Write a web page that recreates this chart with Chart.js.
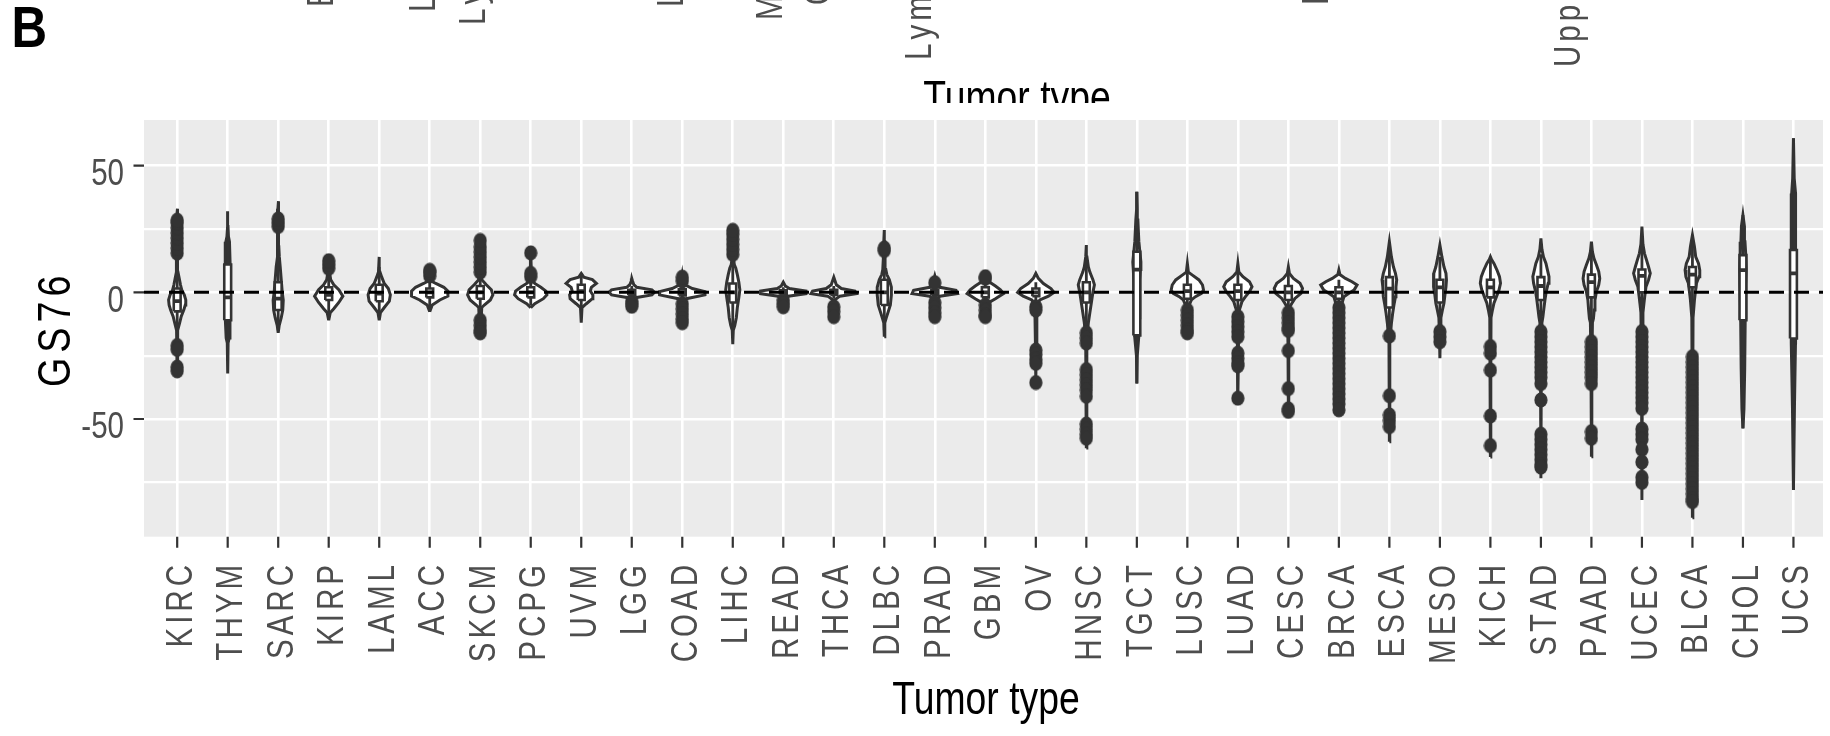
<!DOCTYPE html>
<html>
<head>
<meta charset="utf-8">
<script src="https://cdn.jsdelivr.net/npm/chart.js@4.4.1/dist/chart.umd.min.js"></script>
<style>
  html, body { margin: 0; padding: 0; background: #fff; overflow: hidden; }
  canvas { display: block; }
</style>
</head>
<body>
<canvas id="chart" width="1830" height="736"></canvas>
<script>
// Tumor types, in plotting order
const categories = ['KIRC','THYM','SARC','KIRP','LAML','ACC','SKCM','PCPG','UVM','LGG','COAD','LIHC','READ','THCA','DLBC','PRAD','GBM','OV','HNSC','TGCT','LUSC','LUAD','CESC','BRCA','ESCA','MESO','KICH','STAD','PAAD','UCEC','BLCA','CHOL','UCS'];

// Box statistics of GS76 per tumor type
const whiskerLow  = [-15,-18,-15,-10,-9,-6,-6,-5,-7,-2.5,-3,-15,-2,-2.5,-15,-2.5,-4.5,-4,-15,-36,-6,-7.5,-7,-5,-16,-14,-10,-14,-13,-13,-10,-53.7,-78];
const q1          = [-7.5,-11,-7,-3,-3.5,-2,-2.5,-2,-3,-1,-1.2,-4,-0.8,-1,-5,-1,-2,-1.5,-4,-17,-2.5,-3,-3,-2.5,-6,-4,-2,-3,-2,0,2,-11,-18.2];
const median      = [-3.5,-2,-2.5,-1,-0.5,0,0,0,0.5,0,0,0,0,0,0,0,0,0,0,9,0.5,0.5,0,0,1.5,2,2,2.5,4,6.5,7,8.8,7.5];
const q3          = [1.5,11,4,2,3,1.5,2.5,2,3,1,1.2,3.5,0.8,1,5,1,2,1.5,4,16,3,3,2.5,2,6,5,5,6,7,9,10,14.7,16.7];
const whiskerHigh = [12,22,17,8,10,5,6.5,5,7,2.5,3,14,2,2.5,14,2.5,4.5,4,14,39.7,8,8,8,5,16,14,13,15,17,22,20,30.5,60.8];

// Outlying samples per tumor type
const outliers = [
  [15.5,17.5,19.5,21.5,23.5,25.5,27.5,28.5,-21,-22.5,-29.5,-31],
  [],
  [26,27.5,29],
  [9.5,11,12.5],
  [],
  [6.5,8,8.7],
  [8,10,12,14,16,18,20.5,-11,-13,-15,-16],
  [6.2,7.5,15.6],
  [],
  [-3.5,-4.5,-5.5],
  [4.5,6,-4.5,-6.5,-8.5,-10.5,-12],
  [15,17,19,21,23,24.5],
  [-3,-4.5,-5.7],
  [-5.7,-7.5,-9.6],
  [16.5,17.5],
  [3.8,-4,-6,-8,-9.6],
  [5.5,6.2,-5,-7,-9,-9.6],
  [-5.7,-7,-22.8,-24.5,-26.5,-28,-35.6],
  [-16,-18,-20,-30.5,-32.5,-34.5,-36.5,-38.5,-41,-52,-54,-56,-57.6],
  [],
  [-7,-9,-11,-13,-15,-16],
  [-9.6,-11.5,-13.5,-15.5,-17.5,-24,-26,-28,-29,-41.8],
  [-8,-10,-12,-14,-15,-23,-38,-46,-47],
  [-6,-8,-10,-12,-14,-16,-18,-20,-22,-24,-26,-28,-30,-32,-34,-36,-38,-40,-42,-44,-46.4],
  [-17.2,-40.8,-48.4,-50.5,-53],
  [-15.5,-17.5,-19.5],
  [-21.4,-24,-30.7,-48.8,-60.5],
  [-15.5,-17.5,-19.5,-21.5,-23.5,-25.5,-27.5,-29.5,-31.5,-33.5,-36,-42.5,-56,-58,-60,-62,-64,-66,-68,-69],
  [-19.5,-21.5,-23.5,-25.5,-27.5,-29.5,-31.5,-33.5,-36,-55,-57.6],
  [-15.5,-17.5,-19.5,-21.5,-23.5,-25.5,-27.5,-29.5,-31.5,-33.5,-35.5,-37.5,-39.5,-41.5,-43.5,-45.8,-54,-56,-58,-62,-67,-73,-75],
  [-25.4,-27.5,-29.5,-31.5,-33.5,-35.5,-37.5,-39.5,-41.5,-43.5,-45.5,-47.5,-49.5,-51.5,-53.5,-55.5,-57.5,-59.5,-61.5,-63.5,-65.5,-67.5,-69.5,-71.5,-73.5,-75.5,-77.5,-79.5,-81.5,-82.6],
  [],
  []
];

// Violin outlines: [GS76 value, half width in category units], bottom to top
const violinShapes = [
  [[-33,0],[-25,0.006],[-15,0.012],[-12,0.05],[-9.5,0.08],[-7,0.13],[-5,0.16],[-3,0.17],[-1,0.14],[1,0.09],[3,0.065],[5.5,0.04],[8,0.015],[20,0.015],[30,0.008],[33,0]],
  [[-32,0],[-20,0.008],[-18,0.03],[-10,0.045],[0,0.05],[10,0.05],[20,0.035],[22,0.015],[26,0.006],[32,0]],
  [[-16,0],[-13,0.02],[-10,0.06],[-7,0.09],[-3,0.1],[0,0.08],[5,0.06],[10,0.04],[14,0.022],[18,0.012],[24,0.01],[28,0.012],[33,0.006],[36,0]],
  [[-11,0],[-8,0.03],[-6.5,0.1],[-4,0.2],[-1.5,0.28],[1,0.2],[3,0.1],[5,0.04],[8,0.015],[13,0]],
  [[-11,0],[-8,0.025],[-6,0.1],[-3.5,0.2],[-1,0.22],[1.5,0.18],[3.5,0.1],[6,0.05],[8,0.015],[14,0]],
  [[-7.6,0],[-5,0.05],[-3,0.2],[-1.5,0.36],[0.5,0.36],[2,0.28],[3.5,0.12],[4.5,0.03],[6,0.012],[9,0]],
  [[-17,0],[-14,0.012],[-6,0.03],[-5,0.08],[-3,0.2],[-1,0.25],[1,0.22],[3,0.12],[5,0.03],[12,0.012],[21,0]],
  [[-6,0],[-4.5,0.08],[-2.5,0.25],[-1,0.32],[0.5,0.3],[2,0.2],[3.5,0.08],[5,0.03],[8,0.012],[16,0]],
  [[-12,0],[-6,0.015],[-4.5,0.1],[-2.5,0.22],[-1,0.23],[0.5,0.18],[2,0.2],[3.5,0.3],[5,0.22],[6,0.05],[7.5,0]],
  [[-6.5,0],[-4,0.015],[-2,0.1],[-1,0.4],[0,0.45],[1,0.4],[2,0.1],[3,0.04],[4.5,0.015],[5.5,0]],
  [[-13,0],[-4,0.015],[-2.5,0.08],[-1,0.45],[0.3,0.45],[1.5,0.2],[3,0.05],[5,0.015],[7,0]],
  [[-20.5,0],[-15,0.01],[-13,0.04],[-10,0.07],[-6,0.09],[-2,0.12],[1,0.14],[4,0.12],[7,0.09],[9.5,0.06],[11,0.03],[14,0.012],[20,0.012],[25,0]],
  [[-6,0],[-3,0.015],[-1.5,0.1],[-0.5,0.45],[0.5,0.45],[1.5,0.12],[2.5,0.04],[4,0]],
  [[-10,0],[-3,0.015],[-1.5,0.12],[-0.5,0.45],[0.5,0.42],[1.5,0.15],[3,0.05],[6,0]],
  [[-17.5,0],[-12,0.01],[-10,0.04],[-7.5,0.08],[-5,0.12],[-1,0.14],[2,0.14],[5,0.1],[7,0.05],[9,0.03],[15,0.015],[20,0.01],[24.6,0]],
  [[-10,0],[-3,0.03],[-1.5,0.1],[-0.5,0.45],[0.8,0.42],[2,0.1],[3.5,0.04],[6.5,0]],
  [[-10,0],[-4.5,0.03],[-2.5,0.2],[-0.5,0.36],[1,0.3],[2.5,0.2],[4.5,0.05],[7,0]],
  [[-36,0],[-20,0.008],[-5,0.02],[-3,0.08],[-1.5,0.25],[0,0.36],[1.5,0.3],[3.5,0.15],[5.5,0.05],[7.5,0]],
  [[-61.5,0],[-40,0.008],[-18,0.012],[-12,0.04],[-8,0.07],[-4,0.1],[0,0.13],[3,0.16],[5,0.13],[8,0.07],[10,0.04],[14,0.012],[18.7,0]],
  [[-36,0],[-25,0.008],[-17,0.04],[-10,0.05],[0,0.055],[5,0.06],[9,0.07],[12,0.08],[16,0.06],[20,0.04],[28.6,0.02],[33,0.008],[39.7,0]],
  [[-16,0],[-6,0.015],[-3,0.08],[-1.7,0.16],[-0.4,0.28],[0.9,0.32],[2.9,0.3],[4.9,0.23],[6.8,0.1],[8,0.02],[11.4,0]],
  [[-42,0],[-30,0.008],[-8,0.012],[-5.7,0.05],[-3.7,0.08],[-1.7,0.15],[0.3,0.23],[2.2,0.28],[4.2,0.23],[6.2,0.1],[8,0.02],[11.4,0]],
  [[-47,0],[-20,0.008],[-6,0.02],[-4.3,0.07],[-2.4,0.13],[-0.4,0.25],[1.6,0.28],[3.6,0.23],[5.5,0.1],[7.5,0.02],[10,0]],
  [[-47,0],[-10,0.012],[-3.7,0.07],[-1.7,0.1],[-0.4,0.2],[0.9,0.3],[2.9,0.36],[4.2,0.26],[5.5,0.13],[7,0.02],[8.8,0]],
  [[-59,0],[-20,0.008],[-12.2,0.04],[-8.3,0.065],[-5,0.09],[-1.7,0.12],[2.2,0.13],[4.9,0.145],[7.5,0.12],[10.1,0.08],[14,0.04],[20,0]],
  [[-26,0],[-18,0.008],[-10,0.02],[-7,0.05],[-4.3,0.08],[-1,0.1],[2.2,0.12],[4.9,0.13],[7.5,0.12],[10.1,0.08],[14,0.04],[18.7,0]],
  [[-65,0],[-30,0.008],[-10,0.012],[-7,0.04],[-4.3,0.07],[-1.7,0.12],[0.9,0.17],[3.6,0.2],[6.2,0.18],[8.8,0.13],[11.4,0.07],[13,0.02],[14,0]],
  [[-73.4,0],[-30,0.008],[-12,0.02],[-9.6,0.04],[-7,0.055],[-3,0.08],[0.3,0.105],[3.6,0.145],[6.2,0.16],[8.8,0.13],[11.4,0.1],[14,0.05],[17,0.02],[21.3,0]],
  [[-64.9,0],[-30,0.008],[-12,0.02],[-10.3,0.04],[-7,0.055],[-3,0.07],[0.3,0.1],[2.9,0.145],[5.5,0.165],[8.2,0.145],[10.8,0.1],[13.4,0.05],[16,0.02],[20,0]],
  [[-82,0],[-30,0.008],[-8,0.02],[-4.3,0.04],[-1.7,0.055],[2.2,0.08],[4.9,0.13],[7.5,0.165],[10.1,0.13],[12.8,0.09],[15.4,0.05],[19,0.02],[26,0]],
  [[-89,0],[-30,0.008],[-10,0.012],[-3,0.04],[-0.4,0.055],[3.6,0.08],[6.2,0.13],[8.8,0.145],[11.4,0.12],[14,0.065],[18,0.04],[22.6,0]],
  [[-53.7,0],[-46,0.02],[-30,0.035],[-10,0.045],[-4,0.05],[3,0.06],[9,0.065],[15,0.055],[20,0.04],[26,0.03],[30.5,0]],
  [[-78,0],[-45,0.02],[-20,0.04],[0,0.045],[20,0.045],[39,0.035],[45,0.015],[60.8,0]]
];

// Axis ticks and gridlines
const yTickValues = [-50, 0, 50];
const yMinorValues = [-75, -25, 25];
const referenceLine = 0;

// Labels of the panel above, whose lower ends show at the top edge
const upperPanelLabels = ['Endocrine','Lung','Lymphatic','Liver','Melanocytes','Ovary','Lymphoid','Esophagus','Upper aerodigestive'];

// ---- drawing ----
const INK = '#333333';
const BOX_HW = 0.068;
const X_MIN = -0.657, X_MAX = 32.585;
const Y_MIN = -96.47, Y_MAX = 68.04;
const FONT = '"Liberation Sans", Arial, Helvetica, sans-serif';

// filled outlier marker
const dot = document.createElement('canvas');
dot.width = 14; dot.height = 16;
(function () {
  const d = dot.getContext('2d');
  d.fillStyle = INK;
  d.beginPath();
  d.ellipse(7, 8, 6.6, 7.6, 0, 0, Math.PI * 2);
  d.fill();
})();

const datasets = [];
categories.forEach((name, i) => {
  const shape = violinShapes[i];
  const right = shape.map(([y, w]) => ({ x: i + w, y }));
  const left = shape.slice().reverse().map(([y, w]) => ({ x: i - w, y }));
  datasets.push({
    label: name + ' violin', data: right.concat(left), order: 50,
    borderColor: INK, borderWidth: 3, backgroundColor: '#ffffff', fill: 'shape',
    pointRadius: 0, tension: 0
  });
  datasets.push({
    label: name + ' whisker', order: 40,
    data: [{ x: i, y: whiskerLow[i] }, { x: i, y: whiskerHigh[i] }],
    borderColor: INK, borderWidth: 2.8, pointRadius: 0, fill: false
  });
  datasets.push({
    label: name + ' box', order: 30,
    data: [
      { x: i - BOX_HW, y: q1[i] }, { x: i + BOX_HW, y: q1[i] },
      { x: i + BOX_HW, y: q3[i] }, { x: i - BOX_HW, y: q3[i] },
      { x: i - BOX_HW, y: q1[i] }
    ],
    borderColor: INK, borderWidth: 2.6, backgroundColor: '#ffffff', fill: 'shape', pointRadius: 0
  });
  datasets.push({
    label: name + ' median', order: 20,
    data: [{ x: i - BOX_HW, y: median[i] }, { x: i + BOX_HW, y: median[i] }],
    borderColor: INK, borderWidth: 3.8, pointRadius: 0, fill: false
  });
});
const outlierPoints = [];
outliers.forEach((vals, i) => vals.forEach(v => outlierPoints.push({ x: i, y: v })));
datasets.push({
  label: 'outliers', order: 10, data: outlierPoints, showLine: false,
  pointStyle: dot, pointRadius: 7, borderWidth: 0
});
datasets.push({
  label: 'zero', order: 0,
  data: [{ x: X_MIN, y: referenceLine }, { x: X_MAX, y: referenceLine }],
  borderColor: '#000000', borderWidth: 3, borderDash: [15, 10], pointRadius: 0, fill: false
});

// text with a narrow face and optional letter spacing
function drawText(ctx, text, x, y, o) {
  const sx = o.sx || 0.82;
  const sp = (o.spacing || 0) / sx;
  ctx.save();
  ctx.translate(x, y);
  if (o.rotate) ctx.rotate(-Math.PI / 2);
  ctx.scale(sx, 1);
  ctx.font = (o.weight || 'normal') + ' ' + o.size + 'px ' + FONT;
  ctx.fillStyle = o.color;
  ctx.textBaseline = 'alphabetic';
  if (!sp) {
    ctx.textAlign = o.align || 'left';
    ctx.fillText(text, 0, 0);
  } else {
    ctx.textAlign = 'left';
    const chars = [...text];
    const ws = chars.map(c => ctx.measureText(c).width);
    const total = ws.reduce((a, b) => a + b, 0) + sp * (chars.length - 1);
    let cx = o.align === 'right' ? -total : (o.align === 'center' ? -total / 2 : 0);
    chars.forEach((c, k) => { ctx.fillText(c, cx, 0); cx += ws[k] + sp; });
  }
  ctx.restore();
}

const decor = {
  id: 'decor',
  beforeDraw(chart) {
    const { ctx, chartArea: a } = chart;
    ctx.save();
    ctx.fillStyle = '#ffffff';
    ctx.fillRect(0, 0, chart.width, chart.height);
    ctx.fillStyle = '#EBEBEB';
    ctx.fillRect(a.left, a.top, a.right - a.left, a.bottom - a.top);
    ctx.restore();
  },
  afterDraw(chart) {
    const { ctx, chartArea: a } = chart;
    const xs = chart.scales.x, ys = chart.scales.y;
    ctx.save();
    // axis ticks
    ctx.strokeStyle = INK;
    ctx.lineWidth = 2.2;
    ctx.beginPath();
    yTickValues.forEach(v => {
      const py = ys.getPixelForValue(v);
      ctx.moveTo(a.left - 10.5, py); ctx.lineTo(a.left, py);
    });
    categories.forEach((c, i) => {
      const px = xs.getPixelForValue(i);
      ctx.moveTo(px, a.bottom); ctx.lineTo(px, a.bottom + 11);
    });
    ctx.stroke();
    // y tick labels
    yTickValues.forEach(v => {
      drawText(ctx, String(v), a.left - 20, ys.getPixelForValue(v) + 19.4,
        { size: 36, align: 'right', color: '#4D4D4D' });
    });
    // x tick labels
    categories.forEach((c, i) => {
      drawText(ctx, c, xs.getPixelForValue(i) + 14.7, a.bottom + 28.3,
        { size: 36, rotate: true, align: 'right', spacing: 4, color: '#4D4D4D' });
    });
    // axis titles
    drawText(ctx, 'GS76', 69.5, (a.top + a.bottom) / 2 + 3, { size: 46, rotate: true, align: 'center', spacing: 5, color: '#000' });
    drawText(ctx, 'Tumor type', (a.left + a.right) / 2 + 2.5, 714, { size: 45.5, align: 'center', color: '#000' });
    // panel letter
    drawText(ctx, 'B', 11.5, 47, { size: 58, weight: 'bold', sx: 0.85, color: '#000' });
    // lower ends of the panel above
    ctx.save();
    ctx.beginPath();
    ctx.rect(0, 0, chart.width, 103);
    ctx.clip();
    const anchors = [[333, 7], [435, 12], [485, 25], [683, 7], [782, 20], [830, 5], [931, 60], [1328, 5], [1580, 67]];
    upperPanelLabels.forEach((t, k) => {
      drawText(ctx, t, anchors[k][0], anchors[k][1], { size: 36, rotate: true, align: 'left', spacing: 4, color: '#4D4D4D' });
    });
    drawText(ctx, 'Tumor type', 1017, 113, { size: 45.5, align: 'center', color: '#000' });
    ctx.restore();
    ctx.restore();
  }
};

new Chart(document.getElementById('chart'), {
  type: 'line',
  data: { datasets },
  options: {
    responsive: false,
    maintainAspectRatio: false,
    devicePixelRatio: 1,
    animation: false,
    events: [],
    layout: { padding: { left: 144, top: 120, right: 0, bottom: 199.3 } },
    plugins: { legend: { display: false }, tooltip: { enabled: false }, title: { display: false } },
    scales: {
      x: {
        type: 'linear', min: X_MIN, max: X_MAX,
        border: { display: false },
        ticks: { display: false },
        grid: { color: '#ffffff', lineWidth: 2.6, drawTicks: false },
        afterBuildTicks: s => { s.ticks = categories.map((c, i) => ({ value: i })); },
        afterFit: s => { s.height = 0; }
      },
      y: {
        type: 'linear', min: Y_MIN, max: Y_MAX,
        border: { display: false },
        ticks: { display: false },
        grid: {
          color: '#ffffff', drawTicks: false,
          lineWidth: c => (c.tick && yMinorValues.includes(c.tick.value)) ? 2.2 : 2.6
        },
        afterBuildTicks: s => { s.ticks = yMinorValues.concat(yTickValues).sort((p, q) => p - q).map(v => ({ value: v })); },
        afterFit: s => { s.width = 0; }
      }
    }
  },
  plugins: [decor]
});
</script>
</body>
</html>
